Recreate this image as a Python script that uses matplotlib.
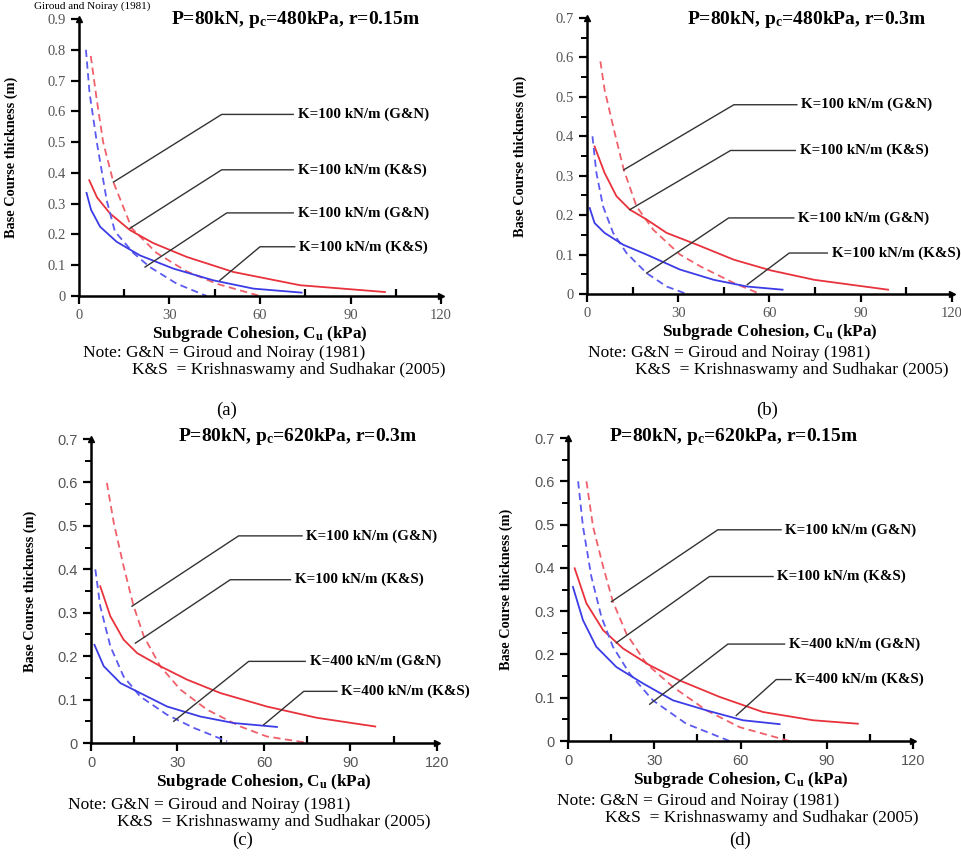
import matplotlib.pyplot as plt
from matplotlib.ticker import MultipleLocator

plt.rcParams['font.family'] = ['Liberation Serif', 'DejaVu Serif']
plt.rcParams['mathtext.default'] = 'regular'

RED = '#e8323c'
RED_DASH = '#f0606a'
BLUE = '#3c3ce6'
BLUE_DASH = '#5a5af0'

# ---- panel (a): P=80kN, pc=480kPa, r=0.15m ----
a_gn100_x = [3.9, 5.9, 8, 11.4, 17.5, 25.7, 35.7, 45.6, 60]
a_gn100_y = [0.78, 0.637, 0.50, 0.37, 0.22, 0.14, 0.08, 0.04, 0.0]
a_ks100_x = [3.4, 6, 10.3, 16.9, 24.6, 35.7, 51.2, 73.3, 101.4]
a_ks100_y = [0.376, 0.32, 0.268, 0.214, 0.172, 0.127, 0.078, 0.035, 0.013]
a_gn400_x = [2.3, 3.5, 5.9, 9.2, 11.9, 18, 23.5, 32.4, 42.3]
a_gn400_y = [0.80, 0.66, 0.50, 0.31, 0.21, 0.14, 0.094, 0.04, 0.0]
a_ks400_x = [2.5, 4, 7, 12.5, 20.2, 31.3, 44.5, 57.8, 73.8]
a_ks400_y = [0.335, 0.28, 0.225, 0.176, 0.132, 0.089, 0.051, 0.024, 0.011]

# ---- panel (b): P=80kN, pc=480kPa, r=0.3m ----
b_gn100_x = [4.4, 5.8, 8.6, 12.1, 16.3, 21.8, 30.6, 37.3, 48.3, 57]
b_gn100_y = [0.59, 0.518, 0.425, 0.315, 0.222, 0.163, 0.10, 0.07, 0.028, 0.0]
b_ks100_x = [2.5, 5.8, 9.7, 14.1, 19.6, 26.2, 36.2, 48.3, 60.4, 74.8, 99]
b_ks100_y = [0.374, 0.307, 0.248, 0.214, 0.189, 0.155, 0.125, 0.087, 0.060, 0.036, 0.011]
b_gn400_x = [1.8, 3.1, 5.3, 8.6, 13, 19.6, 26.2, 32.9]
b_gn400_y = [0.40, 0.307, 0.222, 0.155, 0.104, 0.053, 0.019, 0.0]
b_ks400_x = [0.9, 2.5, 5.8, 11.9, 19.6, 30.6, 41.7, 52.7, 64.3]
b_ks400_y = [0.218, 0.18, 0.155, 0.125, 0.10, 0.062, 0.036, 0.019, 0.011]

# ---- panel (c): P=80kN, pc=620kPa, r=0.3m ----
c_gn100_x = [5.5, 7.9, 11.3, 14.8, 18.3, 24, 31, 40.2, 51.8, 61, 75.5]
c_gn100_y = [0.599, 0.507, 0.407, 0.315, 0.246, 0.177, 0.123, 0.077, 0.038, 0.015, 0.0]
c_ks100_x = [3.2, 6.7, 11.3, 16, 24, 33.3, 44.9, 61, 78.4, 98.6]
c_ks100_y = [0.361, 0.292, 0.238, 0.207, 0.177, 0.146, 0.115, 0.084, 0.058, 0.038]
c_gn400_x = [1.5, 3.2, 6.7, 11.3, 17.1, 26.4, 35.6, 47.2]
c_gn400_y = [0.40, 0.315, 0.223, 0.153, 0.107, 0.065, 0.035, 0.004]
c_ks400_x = [1.2, 4.4, 10.2, 17.1, 26.4, 37.9, 49.5, 64.5]
c_ks400_y = [0.226, 0.177, 0.138, 0.115, 0.084, 0.061, 0.046, 0.037]

# ---- panel (d): P=80kN, pc=620kPa, r=0.15m ----
d_gn100_x = [6.4, 8.7, 12.2, 15.6, 20.3, 27.2, 36.5, 48.1, 59.7, 77]
d_gn100_y = [0.60, 0.495, 0.403, 0.322, 0.248, 0.179, 0.125, 0.071, 0.032, 0.0]
d_ks100_x = [2.3, 6.4, 12.2, 19.1, 28.4, 38.8, 52.7, 67.8, 85.2, 100.8]
d_ks100_y = [0.399, 0.318, 0.256, 0.214, 0.175, 0.14, 0.102, 0.067, 0.048, 0.040]
d_gn400_x = [3.5, 5.2, 8.1, 11.6, 15.6, 21.4, 29.5, 41.1, 56.2]
d_gn400_y = [0.60, 0.495, 0.38, 0.287, 0.218, 0.156, 0.094, 0.040, 0.0]
d_ks400_x = [1.7, 5.2, 9.8, 16.8, 26.1, 36.5, 48.1, 60.8, 73.6]
d_ks400_y = [0.356, 0.279, 0.218, 0.171, 0.133, 0.094, 0.071, 0.048, 0.039]

titles = ['P=80kN, p$_c$=480kPa, r=0.15m', 'P=80kN, p$_c$=480kPa, r=0.3m',
          'P=80kN, p$_c$=620kPa, r=0.3m', 'P=80kN, p$_c$=620kPa, r=0.15m']
labels_ab = ['K=100 kN/m (G&N)', 'K=100 kN/m (K&S)', 'K=100 kN/m (G&N)', 'K=100 kN/m (K&S)']
labels_cd = ['K=100 kN/m (G&N)', 'K=100 kN/m (K&S)', 'K=400 kN/m (G&N)', 'K=400 kN/m (K&S)']
panel_tags = ['(a)', '(b)', '(c)', '(d)']
x_ticks = [0, 30, 60, 90, 120]


def draw_panel(ax, series, ymax, labels, leaders, tick_font, minor_y, ylab_x):
    gn100, ks100, gn400, ks400 = series
    ax.plot(gn100[0], gn100[1], color=RED_DASH, lw=1.3, dashes=(4, 2.5))
    ax.plot(ks100[0], ks100[1], color=RED, lw=1.3)
    ax.plot(gn400[0], gn400[1], color=BLUE_DASH, lw=1.3, dashes=(4, 2.5))
    ax.plot(ks400[0], ks400[1], color=BLUE, lw=1.3)

    # leader lines + labels
    for lab, (start, knee, end_x) in zip(labels, leaders):
        ax.plot([start[0], knee[0], end_x], [start[1], knee[1], knee[1]],
                color='#333333', lw=1.0)
        ax.text(end_x + 1.5, knee[1], lab, fontsize=10.8, fontweight='bold',
                va='center', ha='left', clip_on=False)

    ax.set_xlim(0, 120)
    ax.set_ylim(0, ymax)
    ax.set_xticks(x_ticks)
    ax.xaxis.set_minor_locator(MultipleLocator(15))
    ax.yaxis.set_major_locator(MultipleLocator(0.1))
    if minor_y:
        ax.yaxis.set_minor_locator(MultipleLocator(0.05))
    ax.yaxis.set_major_formatter(plt.FuncFormatter(lambda v, p: '0' if v == 0 else f'{v:.1f}'))

    for s in ['top', 'right']:
        ax.spines[s].set_visible(False)
    for s in ['left', 'bottom']:
        ax.spines[s].set_linewidth(1.8)
    ax.tick_params(which='major', length=6, width=1.6, direction='out',
                   labelsize=10.5, labelcolor='#555555')
    ax.tick_params(axis='x', which='minor', length=5, width=1.6, direction='in')
    ax.tick_params(axis='y', which='minor', length=4, width=1.4, direction='out')
    for t in ax.get_xticklabels() + ax.get_yticklabels():
        t.set_family(tick_font)

    # arrow heads at spine ends
    ax.plot(1, 0, '>', color='k', ms=5, transform=ax.transAxes, clip_on=False)
    ax.plot(0, 1, '^', color='k', ms=5, transform=ax.transAxes, clip_on=False)

    ax.set_xlabel('Subgrade Cohesion, C$_u$ (kPa)', fontsize=12.3, fontweight='bold', labelpad=1)
    ax.set_ylabel('Base Course thickness (m)', fontsize=10.3, fontweight='bold')
    ax.yaxis.set_label_coords(ylab_x, 0.5)


fig = plt.figure(figsize=(9.61, 8.56), dpi=100)

ax_a = fig.add_axes([0.0822, 0.6542, 0.3767, 0.3236])
ax_b = fig.add_axes([0.6108, 0.6565, 0.3798, 0.3225])
ax_c = fig.add_axes([0.0947, 0.1320, 0.3600, 0.3551])
ax_d = fig.add_axes([0.5911, 0.1343, 0.3590, 0.3540])

draw_panel(ax_a,
           [(a_gn100_x, a_gn100_y), (a_ks100_x, a_ks100_y),
            (a_gn400_x, a_gn400_y), (a_ks400_x, a_ks400_y)],
           0.9, labels_ab,
           [((11.4, 0.37), (47.3, 0.59), 71),
            ((16.9, 0.22), (47.3, 0.41), 71),
            ((21.9, 0.094), (49, 0.27), 71),
            ((46.7, 0.051), (60, 0.16), 71.5)],
           'Liberation Serif', False, -0.168)
draw_panel(ax_b,
           [(b_gn100_x, b_gn100_y), (b_ks100_x, b_ks100_y),
            (b_gn400_x, b_gn400_y), (b_ks400_x, b_ks400_y)],
           0.7, labels_ab,
           [((12.1, 0.315), (48.3, 0.48), 69),
            ((14.1, 0.214), (47.2, 0.364), 68.5),
            ((19.6, 0.053), (46.6, 0.193), 68),
            ((52.7, 0.024), (66.5, 0.104), 79)],
           'Liberation Serif', True, -0.164)
draw_panel(ax_c,
           [(c_gn100_x, c_gn100_y), (c_ks100_x, c_ks100_y),
            (c_gn400_x, c_gn400_y), (c_ks400_x, c_ks400_y)],
           0.7, labels_cd,
           [((14.2, 0.315), (51.2, 0.477), 73.2),
            ((15.4, 0.23), (48.3, 0.376), 69.2),
            ((28.7, 0.05), (54.7, 0.188), 74.3),
            ((59.9, 0.042), (73.8, 0.119), 85.3)],
           'Liberation Sans', True, -0.156)
draw_panel(ax_d,
           [(d_gn100_x, d_gn100_y), (d_ks100_x, d_ks100_y),
            (d_gn400_x, d_gn400_y), (d_ks400_x, d_ks400_y)],
           0.7, labels_cd,
           [((15.1, 0.322), (52.1, 0.488), 74.1),
            ((16.8, 0.227), (49.2, 0.38), 71.3),
            ((28.4, 0.085), (55.6, 0.224), 75.3),
            ((58.5, 0.059), (72.4, 0.142), 77.6)],
           'Liberation Sans', True, -0.159)

# titles, notes and panel tags (figure pixel positions converted to fractions)
W, H = 961.0, 856.0
title_pos = [(296, 19), (807, 20), (298, 437), (734, 437)]
note_pos = [(83, 132, 353), (588, 635, 353), (68, 117, 805), (557, 605, 801)]
tag_pos = [(227, 410), (767, 410), (243, 840), (740, 840)]
for i in range(4):
    tx, ty = title_pos[i]
    fig.text(tx / W, 1 - ty / H, titles[i], fontsize=14, fontweight='bold',
             ha='center', va='center')
    nx, kx, ny = note_pos[i]
    fig.text(nx / W, 1 - ny / H, 'Note: G&N = Giroud and Noiray (1981)',
             fontsize=12.5, ha='left', va='center')
    fig.text(kx / W, 1 - (ny + 17) / H, 'K&S  = Krishnaswamy and Sudhakar (2005)',
             fontsize=12.5, ha='left', va='center')
    gx, gy = tag_pos[i]
    fig.text(gx / W, 1 - gy / H, panel_tags[i], fontsize=13.5, ha='center', va='center')

# line of text at the very top edge of the source image
fig.text(150 / W, 1 - 1 / H, 'Giroud and Noiray (1981)', fontsize=8,
         ha='right', va='top')

fig.savefig('out.png', dpi=100)
